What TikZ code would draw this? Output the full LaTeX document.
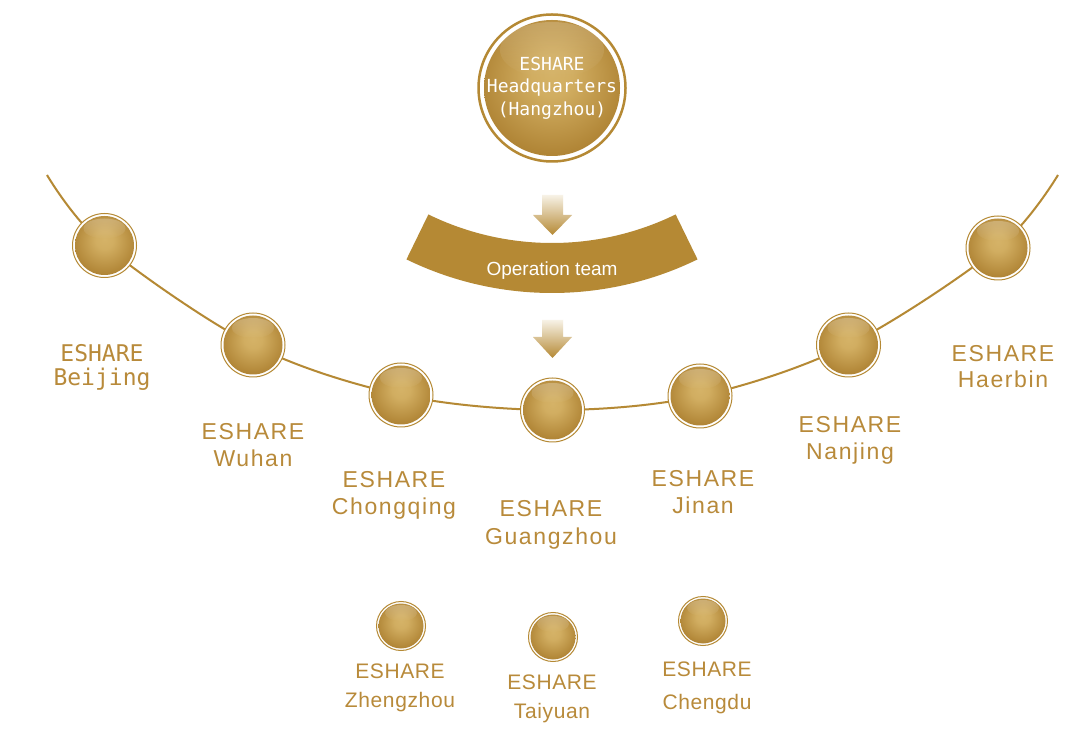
\documentclass[tikz,border=0pt]{standalone}
\usepackage{fontspec}
\setmainfont{Liberation Sans}
\newfontfamily\labfont[LetterSpace=7]{Liberation Sans}
\newfontfamily\smlfont[LetterSpace=3]{Liberation Sans}
\newfontfamily\monofont{DejaVu Sans Mono}
\usetikzlibrary{fadings}
\definecolor{gold}{RGB}{181,137,52}
\definecolor{goldtxt}{RGB}{184,138,58}
\definecolor{cream}{RGB}{247,242,230}
\pgfdeclareradialshading{goldball}{\pgfpoint{0bp}{5bp}}{rgb(0bp)=(0.835,0.700,0.405); rgb(7bp)=(0.82,0.68,0.38); rgb(25bp)=(0.69,0.52,0.21); rgb(50bp)=(0.69,0.52,0.21)}
\pgfdeclarelayer{bg}
\pgfsetlayers{bg,main}
\tikzset{
  ballbase/.style={circle, draw=gold, fill=white, inner sep=0pt},
  ballL/.style={ballbase, line width=1pt, minimum size=64pt,
    path picture={
      \shade[shading=goldball] (path picture bounding box.center) circle (29.5);
      \fill[white, opacity=0.25, path fading=south] ([yshift=17pt]path picture bounding box.center) ellipse (21 and 10);
    }},
  ballS/.style={ballbase, line width=1pt, minimum size=49pt,
    path picture={
      \shade[shading=goldball] (path picture bounding box.center) circle (22.5);
      \fill[white, opacity=0.25, path fading=south] ([yshift=13pt]path picture bounding box.center) ellipse (16 and 8);
    }},
  ballHQ/.style={ballbase, line width=2.5pt, minimum size=147pt, text=white,
    font=\monofont\fontsize{18}{22.5}\selectfont, align=center,
    path picture={
      \shade[shading=goldball] (path picture bounding box.center) circle (68);
      \fill[white, opacity=0.18, path fading=south] ([yshift=38pt]path picture bounding box.center) ellipse (52 and 28);
    }},
  lab/.style={text=goldtxt, font=\labfont\fontsize{23}{27}\selectfont, anchor=base, inner sep=0pt},
  monolab/.style={text=goldtxt, font=\monofont\fontsize{23}{27}\selectfont, anchor=base, inner sep=0pt},
  smlab/.style={text=goldtxt, font=\smlfont\fontsize{21}{27}\selectfont, anchor=base, inner sep=0pt},
  downarrow/.style={top color=cream, bottom color=gold},
  curveline/.style={draw=gold, line width=2pt}
}
\begin{document}
\begin{tikzpicture}[x=1pt,y=1pt]
\useasboundingbox (0,0) rectangle (1083,755);
\begin{pgfonlayer}{bg}
\fill[white] (0,0) rectangle (1083,755);
\end{pgfonlayer}

% headquarters
\node[ballHQ] (hq) at (552,667) {ESHARE\\Headquarters\\(Hangzhou)};

% arrows and operation band
\shade[downarrow] (542,560) -- (563,560) -- (563,540) -- (572,540) -- (552.5,520) -- (533,540) -- (542,540) -- cycle;
\fill[gold] (552,794) ++(244:282) arc[start angle=244,end angle=296,radius=282] -- ++(296:50) arc[start angle=296,end angle=244,radius=332] -- cycle;
\node[text=white, font=\fontsize{19}{22}\selectfont, anchor=base, inner sep=0pt] (op) at (552,479) {Operation team};
\shade[downarrow] (542,435) -- (563,435) -- (563,418) -- (572,418) -- (552.5,397) -- (533,418) -- (542,418) -- cycle;

% arc of branches
\coordinate (cL) at (47,580);
\coordinate (cR) at (1058,580);
\node[ballL] (bj) at (104.5,509.5) {};
\node[ballL] (wh) at (253,410) {};
\node[ballL] (cq) at (401,360) {};
\node[ballL] (gz) at (552.5,345) {};
\node[ballL] (jn) at (700,359) {};
\node[ballL] (nj) at (848.5,410) {};
\node[ballL] (hb) at (998,507) {};
\begin{pgfonlayer}{bg}
\draw[curveline] plot[smooth, tension=0.55] coordinates {(cL) (bj.center) (wh.center) (cq.center) (gz.center) (jn.center) (nj.center) (hb.center) (cR)};
\end{pgfonlayer}

% labels
\node[monolab] (bjA) at (102,393) {ESHARE};
\node[monolab] (bjB) at (102,369) {Beijing};
\node[lab] (whA) at (253,315.5) {ESHARE};
\node[lab] (whB) at (253,288.5) {Wuhan};
\node[lab] (cqA) at (394,267) {ESHARE};
\node[lab] (cqB) at (394,240) {Chongqing};
\node[lab] (gzA) at (551,238) {ESHARE};
\node[lab] (gzB) at (551,211) {Guangzhou};
\node[lab] (jnA) at (703,268) {ESHARE};
\node[lab] (jnB) at (703,241) {Jinan};
\node[lab] (njA) at (850,322) {ESHARE};
\node[lab] (njB) at (850,295) {Nanjing};
\node[lab] (hbA) at (1003,393) {ESHARE};
\node[lab] (hbB) at (1003,367) {Haerbin};

% lower branches
\node[ballS] (zz) at (401,129) {};
\node[ballS] (ty) at (553,118) {};
\node[ballS] (cd) at (703,134) {};
\node[smlab] (zzA) at (400,77) {ESHARE};
\node[smlab] (zzB) at (400,48) {Zhengzhou};
\node[smlab] (tyA) at (552,66) {ESHARE};
\node[smlab] (tyB) at (552,37) {Taiyuan};
\node[smlab] (cdA) at (707,79) {ESHARE};
\node[smlab] (cdB) at (707,46) {Chengdu};
\end{tikzpicture}
\end{document}
